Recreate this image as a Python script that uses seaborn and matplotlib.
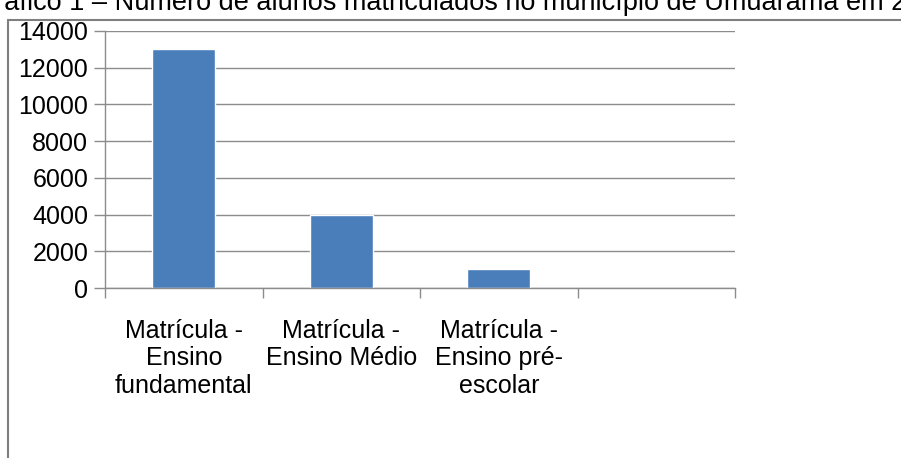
import numpy as np
import pandas as pd
import matplotlib
matplotlib.use('Agg')
import matplotlib.pyplot as plt
import seaborn as sns

# Data
categorias = ['Matrícula -\nEnsino\nfundamental', 'Matrícula -\nEnsino Médio', 'Matrícula -\nEnsino pré-\nescolar', '']
valores = [13000, 4000, 1050]
yticks = [0, 2000, 4000, 6000, 8000, 10000, 12000, 14000]

df = pd.DataFrame({'categoria': categorias[:3], 'matriculas': valores})

sns.set_style('white')
plt.rcParams['font.family'] = ['Liberation Sans', 'DejaVu Sans']

W, H = 901, 458
fig = plt.figure(figsize=(W / 100, H / 100), dpi=100)
ax = fig.add_axes([105 / W, (H - 288) / H, (735 - 105) / W, (288 - 31) / H])

sns.barplot(data=df, x='categoria', y='matriculas', order=categorias,
            color='#4a7ebb', width=0.4, saturation=1, ax=ax)

grid_c = '#8c8c8c'
ax.set_ylim(0, 14000)
ax.set_xlim(-0.5, 3.5)
ax.set_yticks(yticks)
ax.set_yticklabels([str(v) for v in yticks], fontsize=18, color='black')
ax.yaxis.grid(True, color=grid_c, linewidth=1)
ax.set_axisbelow(True)
ax.set_xlabel('')
ax.set_ylabel('')

# category labels at centres, tick marks at the boundaries
ax.set_xticks(range(4))
ax.set_xticklabels(categorias, fontsize=18, linespacing=1.2, color='black')
ax.set_xticks(np.arange(-0.5, 4, 1), minor=True)
ax.tick_params(axis='x', which='major', bottom=True, length=0, pad=22)
ax.tick_params(axis='x', which='minor', bottom=True, length=7, color=grid_c, width=1, direction='out')
ax.tick_params(axis='y', left=True, length=8, color=grid_c, width=1, direction='out', pad=4)

for s in ['top', 'right']:
    ax.spines[s].set_visible(False)
for s in ['left', 'bottom']:
    ax.spines[s].set_color(grid_c)
    ax.spines[s].set_linewidth(1)

# outer frame of the chart area (cut at the figure edges)
fig.add_artist(plt.Line2D([8 / W, 8 / W], [0, (H - 20) / H], color='#7f7f7f', linewidth=1.5))
fig.add_artist(plt.Line2D([8 / W, 1], [(H - 20) / H, (H - 20) / H], color='#7f7f7f', linewidth=1.5))

# caption partially cut off at the top
fig.text(-26 / W, (H - 10) / H, 'Gráfico 1 – Número de alunos matriculados no município de Umuarama em 2012',
         fontsize=19.5, va='baseline', ha='left', color='black')

fig.savefig('out.png', dpi=100)
